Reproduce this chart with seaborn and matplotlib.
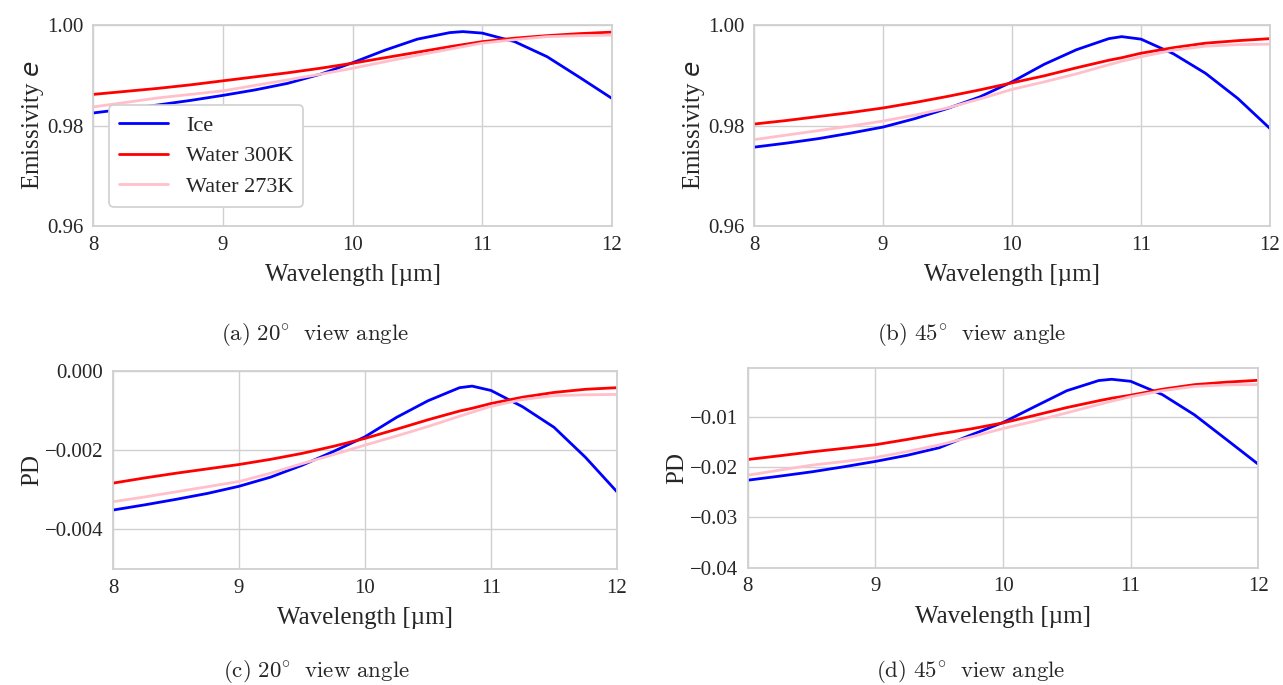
import numpy as np
import pandas as pd
import seaborn as sns
import matplotlib.pyplot as plt

# wavelength grid (um)
wl = [8.0, 8.25, 8.5, 8.75, 9.0, 9.25, 9.5, 9.75, 10.0, 10.25, 10.5, 10.75, 10.85, 11.0, 11.25, 11.5, 11.75, 12.0]

# (a) emissivity, 20 deg
e20_ice = [0.9825, 0.9833, 0.9841, 0.9850, 0.9860, 0.9871, 0.9884, 0.9902, 0.9925, 0.9950, 0.9972, 0.9985, 0.9987, 0.9984, 0.9967, 0.9937, 0.9896, 0.9854]
e20_w300 = [0.9862, 0.9868, 0.9874, 0.9881, 0.9889, 0.9897, 0.9905, 0.9914, 0.9924, 0.9935, 0.9946, 0.9957, 0.9961, 0.9967, 0.9974, 0.9979, 0.9983, 0.9986]
e20_w273 = [0.9837, 0.9846, 0.9855, 0.9862, 0.9869, 0.9880, 0.9891, 0.9902, 0.9914, 0.9927, 0.9940, 0.9952, 0.9957, 0.9964, 0.9971, 0.9977, 0.9979, 0.9980]

# (b) emissivity, 45 deg
e45_ice = [0.9757, 0.9765, 0.9774, 0.9785, 0.9797, 0.9814, 0.9834, 0.9857, 0.9887, 0.9922, 0.9951, 0.9973, 0.9977, 0.9972, 0.9943, 0.9904, 0.9854, 0.9794]
e45_w300 = [0.9803, 0.9810, 0.9818, 0.9826, 0.9835, 0.9846, 0.9858, 0.9871, 0.9885, 0.9899, 0.9915, 0.9930, 0.9935, 0.9944, 0.9955, 0.9964, 0.9969, 0.9973]
e45_w273 = [0.9772, 0.9781, 0.9790, 0.9799, 0.9809, 0.9821, 0.9835, 0.9853, 0.9872, 0.9887, 0.9903, 0.9921, 0.9928, 0.9937, 0.9950, 0.9958, 0.9961, 0.9962]

# (c) PD, 20 deg
pd20_ice = [-0.00351, -0.00338, -0.00324, -0.00309, -0.00291, -0.00268, -0.00238, -0.00203, -0.00166, -0.00117, -0.00075, -0.00042, -0.00038, -0.00049, -0.00090, -0.00142, -0.00218, -0.00305]
pd20_w300 = [-0.00283, -0.00270, -0.00258, -0.00247, -0.00236, -0.00223, -0.00208, -0.00190, -0.00170, -0.00147, -0.00123, -0.00101, -0.00094, -0.00082, -0.00066, -0.00054, -0.00046, -0.00042]
pd20_w273 = [-0.00330, -0.00318, -0.00305, -0.00292, -0.00279, -0.00258, -0.00234, -0.00211, -0.00187, -0.00164, -0.00140, -0.00114, -0.00104, -0.00089, -0.00072, -0.00062, -0.00060, -0.00059]

# (d) PD, 45 deg
pd45_ice = [-0.02261, -0.02180, -0.02095, -0.01995, -0.01887, -0.01765, -0.01615, -0.01360, -0.01113, -0.00795, -0.00480, -0.00278, -0.00253, -0.00293, -0.00560, -0.00960, -0.01450, -0.01943]
pd45_w300 = [-0.01849, -0.01775, -0.01697, -0.01628, -0.01555, -0.01450, -0.01340, -0.01240, -0.01120, -0.00970, -0.00815, -0.00680, -0.00630, -0.00570, -0.00450, -0.00360, -0.00310, -0.00273]
pd45_w273 = [-0.02161, -0.02060, -0.01962, -0.01890, -0.01810, -0.01690, -0.01560, -0.01400, -0.01233, -0.01085, -0.00920, -0.00755, -0.00690, -0.00600, -0.00480, -0.00395, -0.00365, -0.00358]

labels = ["Ice", "Water 300K", "Water 273K"]
palette = {"Ice": "#0000ff", "Water 300K": "#ff0000", "Water 273K": "#ffc0cb"}
captions = ["(a)", "(b)", "(c)", "(d)"]
angles = ["20", "45", "20", "45"]


def make_df(ice, w300, w273):
    frames = []
    for name, vals in zip(labels, [ice, w300, w273]):
        frames.append(pd.DataFrame({"wl": wl, "val": vals, "series": name}))
    return pd.concat(frames, ignore_index=True)


sns.set_theme(style="whitegrid")
plt.rcParams["font.family"] = ["Liberation Serif", "DejaVu Serif"]
plt.rcParams["mathtext.fontset"] = "dejavusans"
plt.rcParams["axes.edgecolor"] = "#d0d0d0"
plt.rcParams["grid.color"] = "#d0d0d0"

fig = plt.figure(figsize=(12.83, 6.85), dpi=100)
axes = [
    fig.add_axes([0.0725, 0.670, 0.4045, 0.2934]),
    fig.add_axes([0.5877, 0.670, 0.4022, 0.2934]),
    fig.add_axes([0.0881, 0.1693, 0.3928, 0.2890]),
    fig.add_axes([0.5829, 0.1714, 0.3978, 0.2920]),
]

data = [
    make_df(e20_ice, e20_w300, e20_w273),
    make_df(e45_ice, e45_w300, e45_w273),
    make_df(pd20_ice, pd20_w300, pd20_w273),
    make_df(pd45_ice, pd45_w300, pd45_w273),
]

for i, (ax, df) in enumerate(zip(axes, data)):
    sns.lineplot(data=df, x="wl", y="val", hue="series", palette=palette,
                 hue_order=labels, linewidth=2, ax=ax, legend=(i == 0))
    ax.set_xlim(8, 12)
    ax.set_xticks([8, 9, 10, 11, 12])
    ax.set_xlabel("Wavelength [µm]", fontsize=18, labelpad=7)
    ax.tick_params(labelsize=15, pad=1)
    for s in ax.spines.values():
        s.set_linewidth(1.3)

for ax in axes[:2]:
    ax.set_ylim(0.96, 1.0)
    ax.set_yticks([0.96, 0.98, 1.00])
    ax.set_yticklabels(["0.96", "0.98", "1.00"])
    ax.set_ylabel("Emissivity $e$", fontsize=18, labelpad=1)

axes[2].set_ylim(-0.005, 0.0)
axes[2].set_yticks([-0.004, -0.002, 0.0])
axes[2].set_yticklabels(["\u22120.004", "\u22120.002", "0.000"])
axes[3].set_ylim(-0.04, -0.0002)
axes[3].set_yticks([-0.04, -0.03, -0.02, -0.01])
axes[3].set_yticklabels(["\u22120.04", "\u22120.03", "\u22120.02", "\u22120.01"])
for ax in axes[2:]:
    ax.set_ylabel("PD", fontsize=18, labelpad=1)

leg = axes[0].legend(loc="lower left", bbox_to_anchor=(0.01, 0.04), fontsize=16,
                     frameon=True, framealpha=1, edgecolor="#d0d0d0",
                     handlelength=2.2, borderpad=0.45, labelspacing=0.45)
leg.get_frame().set_linewidth(1.2)

cap_pos = [(0.2455, 0.512), (0.7576, 0.512), (0.2463, 0.019), (0.7568, 0.019)]
for (x, y), c, a in zip(cap_pos, captions, angles):
    fig.text(x, y, r"$\mathrm{" + c + r"\ " + a + r"^{\circ}\ \ view\ angle}$",
             ha="center", va="center", fontsize=16.5, math_fontfamily="cm")

fig.savefig("out.png", dpi=100)
